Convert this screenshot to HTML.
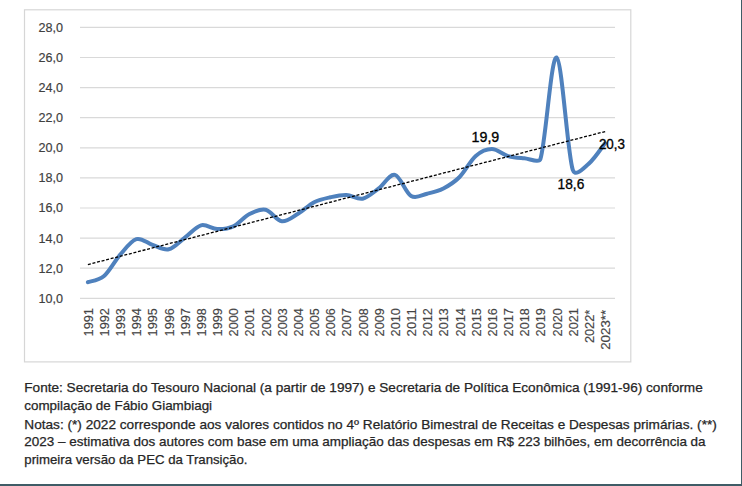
<!DOCTYPE html>
<html><head><meta charset="utf-8"><style>
html,body{margin:0;padding:0;background:#fff;}
body{width:742px;height:486px;overflow:hidden;position:relative;}
svg{position:absolute;left:0;top:0;}
text{font-family:"Liberation Sans",sans-serif;}
.g{stroke:#d9d9d9;stroke-width:1.2;}
.yl{font-size:12.5px;fill:#404040;stroke:#404040;stroke-width:0.18;}
.xl{font-size:12.5px;fill:#444;stroke:#444;stroke-width:0.15;}
.dl{font-size:14.2px;fill:#000;stroke:#000;stroke-width:0.3;}
.nt{font-size:12.8px;fill:#262626;stroke:#262626;stroke-width:0.25;}
</style></head><body>
<svg width="742" height="486" viewBox="0 0 742 486">
<rect x="0" y="0" width="742" height="486" fill="#fff"/>
<rect x="24.5" y="9.8" width="606.3" height="352.1" fill="none" stroke="#d6d6d6" stroke-width="1.2"/>
<line x1="80.0" y1="298.30" x2="615.0" y2="298.30" class="g"/>
<text x="63" y="302.70" class="yl" text-anchor="end" textLength="24.5" lengthAdjust="spacingAndGlyphs">10,0</text>
<line x1="80.0" y1="268.20" x2="615.0" y2="268.20" class="g"/>
<text x="63" y="272.60" class="yl" text-anchor="end" textLength="24.5" lengthAdjust="spacingAndGlyphs">12,0</text>
<line x1="80.0" y1="238.10" x2="615.0" y2="238.10" class="g"/>
<text x="63" y="242.50" class="yl" text-anchor="end" textLength="24.5" lengthAdjust="spacingAndGlyphs">14,0</text>
<line x1="80.0" y1="208.00" x2="615.0" y2="208.00" class="g"/>
<text x="63" y="212.40" class="yl" text-anchor="end" textLength="24.5" lengthAdjust="spacingAndGlyphs">16,0</text>
<line x1="80.0" y1="177.90" x2="615.0" y2="177.90" class="g"/>
<text x="63" y="182.30" class="yl" text-anchor="end" textLength="24.5" lengthAdjust="spacingAndGlyphs">18,0</text>
<line x1="80.0" y1="147.80" x2="615.0" y2="147.80" class="g"/>
<text x="63" y="152.20" class="yl" text-anchor="end" textLength="24.5" lengthAdjust="spacingAndGlyphs">20,0</text>
<line x1="80.0" y1="117.70" x2="615.0" y2="117.70" class="g"/>
<text x="63" y="122.10" class="yl" text-anchor="end" textLength="24.5" lengthAdjust="spacingAndGlyphs">22,0</text>
<line x1="80.0" y1="87.60" x2="615.0" y2="87.60" class="g"/>
<text x="63" y="92.00" class="yl" text-anchor="end" textLength="24.5" lengthAdjust="spacingAndGlyphs">24,0</text>
<line x1="80.0" y1="57.50" x2="615.0" y2="57.50" class="g"/>
<text x="63" y="61.90" class="yl" text-anchor="end" textLength="24.5" lengthAdjust="spacingAndGlyphs">26,0</text>
<line x1="80.0" y1="27.40" x2="615.0" y2="27.40" class="g"/>
<text x="63" y="31.80" class="yl" text-anchor="end" textLength="24.5" lengthAdjust="spacingAndGlyphs">28,0</text>
<text transform="translate(92.70,308.2) rotate(-90)" class="xl" text-anchor="end" textLength="28.2" lengthAdjust="spacingAndGlyphs">1991</text>
<text transform="translate(108.87,308.2) rotate(-90)" class="xl" text-anchor="end" textLength="28.2" lengthAdjust="spacingAndGlyphs">1992</text>
<text transform="translate(125.04,308.2) rotate(-90)" class="xl" text-anchor="end" textLength="28.2" lengthAdjust="spacingAndGlyphs">1993</text>
<text transform="translate(141.21,308.2) rotate(-90)" class="xl" text-anchor="end" textLength="28.2" lengthAdjust="spacingAndGlyphs">1994</text>
<text transform="translate(157.38,308.2) rotate(-90)" class="xl" text-anchor="end" textLength="28.2" lengthAdjust="spacingAndGlyphs">1995</text>
<text transform="translate(173.55,308.2) rotate(-90)" class="xl" text-anchor="end" textLength="28.2" lengthAdjust="spacingAndGlyphs">1996</text>
<text transform="translate(189.72,308.2) rotate(-90)" class="xl" text-anchor="end" textLength="28.2" lengthAdjust="spacingAndGlyphs">1997</text>
<text transform="translate(205.89,308.2) rotate(-90)" class="xl" text-anchor="end" textLength="28.2" lengthAdjust="spacingAndGlyphs">1998</text>
<text transform="translate(222.06,308.2) rotate(-90)" class="xl" text-anchor="end" textLength="28.2" lengthAdjust="spacingAndGlyphs">1999</text>
<text transform="translate(238.23,308.2) rotate(-90)" class="xl" text-anchor="end" textLength="28.2" lengthAdjust="spacingAndGlyphs">2000</text>
<text transform="translate(254.40,308.2) rotate(-90)" class="xl" text-anchor="end" textLength="28.2" lengthAdjust="spacingAndGlyphs">2001</text>
<text transform="translate(270.57,308.2) rotate(-90)" class="xl" text-anchor="end" textLength="28.2" lengthAdjust="spacingAndGlyphs">2002</text>
<text transform="translate(286.74,308.2) rotate(-90)" class="xl" text-anchor="end" textLength="28.2" lengthAdjust="spacingAndGlyphs">2003</text>
<text transform="translate(302.91,308.2) rotate(-90)" class="xl" text-anchor="end" textLength="28.2" lengthAdjust="spacingAndGlyphs">2004</text>
<text transform="translate(319.08,308.2) rotate(-90)" class="xl" text-anchor="end" textLength="28.2" lengthAdjust="spacingAndGlyphs">2005</text>
<text transform="translate(335.25,308.2) rotate(-90)" class="xl" text-anchor="end" textLength="28.2" lengthAdjust="spacingAndGlyphs">2006</text>
<text transform="translate(351.42,308.2) rotate(-90)" class="xl" text-anchor="end" textLength="28.2" lengthAdjust="spacingAndGlyphs">2007</text>
<text transform="translate(367.59,308.2) rotate(-90)" class="xl" text-anchor="end" textLength="28.2" lengthAdjust="spacingAndGlyphs">2008</text>
<text transform="translate(383.76,308.2) rotate(-90)" class="xl" text-anchor="end" textLength="28.2" lengthAdjust="spacingAndGlyphs">2009</text>
<text transform="translate(399.93,308.2) rotate(-90)" class="xl" text-anchor="end" textLength="28.2" lengthAdjust="spacingAndGlyphs">2010</text>
<text transform="translate(416.10,308.2) rotate(-90)" class="xl" text-anchor="end" textLength="28.2" lengthAdjust="spacingAndGlyphs">2011</text>
<text transform="translate(432.27,308.2) rotate(-90)" class="xl" text-anchor="end" textLength="28.2" lengthAdjust="spacingAndGlyphs">2012</text>
<text transform="translate(448.44,308.2) rotate(-90)" class="xl" text-anchor="end" textLength="28.2" lengthAdjust="spacingAndGlyphs">2013</text>
<text transform="translate(464.61,308.2) rotate(-90)" class="xl" text-anchor="end" textLength="28.2" lengthAdjust="spacingAndGlyphs">2014</text>
<text transform="translate(480.78,308.2) rotate(-90)" class="xl" text-anchor="end" textLength="28.2" lengthAdjust="spacingAndGlyphs">2015</text>
<text transform="translate(496.95,308.2) rotate(-90)" class="xl" text-anchor="end" textLength="28.2" lengthAdjust="spacingAndGlyphs">2016</text>
<text transform="translate(513.12,308.2) rotate(-90)" class="xl" text-anchor="end" textLength="28.2" lengthAdjust="spacingAndGlyphs">2017</text>
<text transform="translate(529.29,308.2) rotate(-90)" class="xl" text-anchor="end" textLength="28.2" lengthAdjust="spacingAndGlyphs">2018</text>
<text transform="translate(545.46,308.2) rotate(-90)" class="xl" text-anchor="end" textLength="28.2" lengthAdjust="spacingAndGlyphs">2019</text>
<text transform="translate(561.63,308.2) rotate(-90)" class="xl" text-anchor="end" textLength="28.2" lengthAdjust="spacingAndGlyphs">2020</text>
<text transform="translate(577.80,308.2) rotate(-90)" class="xl" text-anchor="end" textLength="28.2" lengthAdjust="spacingAndGlyphs">2021</text>
<text transform="translate(593.97,309.8) rotate(-90)" class="xl" text-anchor="end" textLength="33.3" lengthAdjust="spacingAndGlyphs">2022*</text>
<text transform="translate(610.14,309.8) rotate(-90)" class="xl" text-anchor="end" textLength="40.0" lengthAdjust="spacingAndGlyphs">2023**</text>

<path d="M87.90,282.20 C90.59,281.17 98.67,280.62 104.06,276.03 C109.45,271.44 114.83,260.80 120.22,254.66 C125.61,248.51 130.99,240.78 136.38,239.15 C141.77,237.52 147.15,243.19 152.54,244.87 C157.93,246.55 163.31,250.44 168.70,249.24 C174.09,248.03 179.47,241.64 184.86,237.65 C190.25,233.66 195.63,226.74 201.02,225.31 C206.41,223.88 211.79,228.89 217.18,229.07 C222.57,229.25 227.95,228.87 233.34,226.36 C238.73,223.85 244.11,216.78 249.50,214.02 C254.89,211.26 260.27,208.60 265.66,209.81 C271.05,211.01 276.43,220.59 281.82,221.24 C287.21,221.90 292.59,216.88 297.98,213.72 C303.37,210.56 308.75,205.02 314.14,202.28 C319.53,199.55 324.91,198.52 330.30,197.31 C335.69,196.11 341.07,194.83 346.46,195.06 C351.85,195.28 357.23,199.77 362.62,198.67 C368.01,197.57 373.39,192.40 378.78,188.44 C384.17,184.47 389.55,173.64 394.94,174.89 C400.33,176.14 405.71,192.82 411.10,195.96 C416.49,199.10 421.87,194.96 427.26,193.70 C432.65,192.45 438.03,191.22 443.42,188.44 C448.81,185.65 454.19,182.42 459.58,177.00 C464.97,171.58 470.35,160.59 475.74,155.93 C481.13,151.26 486.51,148.98 491.90,149.00 C497.29,149.03 502.67,154.52 508.06,156.08 C513.45,157.63 518.83,157.83 524.22,158.34 C529.61,158.84 539.15,162.94 540.38,159.09 C545.77,142.28 551.15,55.74 556.54,57.50 C561.93,59.26 567.31,151.94 572.70,169.62 C575.21,177.87 583.47,167.99 588.86,163.60 C594.25,159.21 602.33,146.67 605.02,143.28" fill="none" stroke="#4f81bd" stroke-width="4" stroke-linecap="round" stroke-linejoin="round"/>
<line x1="87.90" y1="264.55" x2="605.60" y2="131.40" stroke="#000" stroke-width="1.3" stroke-dasharray="3,1.7"/>
<text x="471.5" y="142" class="dl" textLength="27.8" lengthAdjust="spacingAndGlyphs">19,9</text>
<text x="598.9" y="149" class="dl" textLength="26.1" lengthAdjust="spacingAndGlyphs">20,3</text>
<text x="557.6" y="188.9" class="dl" textLength="26.7" lengthAdjust="spacingAndGlyphs">18,6</text>
<text x="24.3" y="392.2" class="nt" textLength="678.4" lengthAdjust="spacingAndGlyphs">Fonte: Secretaria do Tesouro Nacional (a partir de 1997) e Secretaria de Política Econômica (1991-96) conforme</text>
<text x="24.3" y="410.0" class="nt" textLength="187.8" lengthAdjust="spacingAndGlyphs">compilação de Fábio Giambiagi</text>
<text x="24.3" y="428.7" class="nt" textLength="692.5" lengthAdjust="spacingAndGlyphs">Notas: (*) 2022 corresponde aos valores contidos no 4º Relatório Bimestral de Receitas e Despesas primárias. (**)</text>
<text x="24.3" y="446.3" class="nt" textLength="681.3" lengthAdjust="spacingAndGlyphs">2023 – estimativa dos autores com base em uma ampliação das despesas em R$ 223 bilhões, em decorrência da</text>
<text x="24.3" y="463.8" class="nt" textLength="223.2" lengthAdjust="spacingAndGlyphs">primeira versão da PEC da Transição.</text>

<rect x="741" y="0" width="1" height="486" fill="#3f5c66"/>
<rect x="0" y="484" width="742" height="2" fill="#3f5c66"/>
</svg>
</body></html>
